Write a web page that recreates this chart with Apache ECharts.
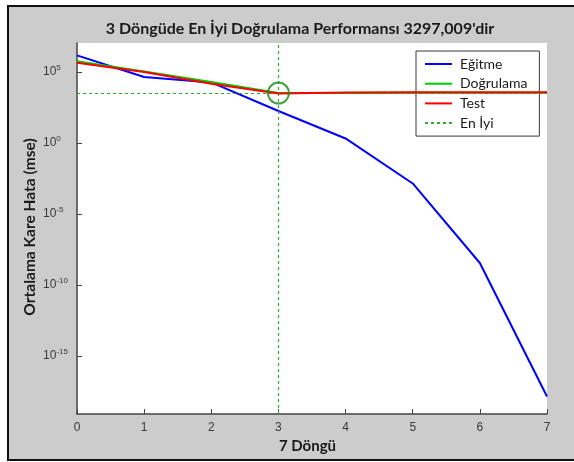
<!DOCTYPE html>
<html>
<head>
<meta charset="utf-8">
<script src="https://cdn.jsdelivr.net/npm/echarts@6/dist/echarts.min.js"></script>
<style>
  html, body { margin: 0; padding: 0; background: #ffffff; }
  #chart { width: 574px; height: 462px; }
</style>
</head>
<body>
<div id="chart"></div>
<script>
// Training record: mean squared error per epoch
const epochs = [0, 1, 2, 3, 4, 5, 6, 7];
const trainMse = [1.5e6, 4.5e4, 1.86e4, 182, 2.1, 1.41e-3, 3.5e-9, 1.35e-18];
const validationMse = [5.9e5, 1.12e5, 2.0e4, 3297.009, 3390, 3470, 3510, 3550];
const testMse = [4.6e5, 1.0e5, 1.5e4, 3090, 3630, 3720, 3760, 3800];
const bestEpoch = 3;
const bestValue = 3297.009;
const yTickExponents = [-15, -10, -5, 0, 5];
const xTicks = [0, 1, 2, 3, 4, 5, 6, 7];

const seriesNames = ['Eğitme', 'Doğrulama', 'Test', 'En İyi'];
const titleText = "3 Döngüde En İyi Doğrulama Performansı 3297,009'dir";

// the vertical axis is plotted in decades (log10 of the error)
const toPoints = (vals) => epochs.map((e, i) => [e, Math.log10(vals[i])]);
const bestLog = Math.log10(bestValue);

const chart = echarts.init(document.getElementById('chart'), null, { renderer: 'canvas' });

const labelFont = '"Liberation Sans", Arial, sans-serif';
const textFont = 'Lato, "Open Sans", sans-serif';
const bestColor = '#33a633';

chart.setOption({
  animation: false,
  graphic: [
    {
      type: 'rect', z: -10,
      shape: { x: 8, y: 6, width: 572, height: 454 },
      style: { fill: '#cccccc', stroke: '#111111', lineWidth: 2 }
    },
    {
      type: 'text', z: 10, x: 300, y: 28.5,
      style: { text: titleText, font: 'bold 16px ' + textFont, fill: '#1a1a1a',
               textAlign: 'center', textVerticalAlign: 'middle' }
    },
    {
      type: 'text', z: 10, x: 307.5, y: 446,
      style: { text: '7 Döngü', font: 'bold 15px ' + textFont, fill: '#1a1a1a',
               textAlign: 'center', textVerticalAlign: 'middle' }
    },
    {
      type: 'text', z: 10, x: 30, y: 227, rotation: Math.PI / 2,
      style: { text: 'Ortalama Kare Hata (mse)', font: 'bold 15.5px ' + textFont, fill: '#1a1a1a',
               textAlign: 'center', textVerticalAlign: 'middle' }
    }
  ],
  grid: {
    left: 77, right: 27, top: 43, bottom: 48,
    show: true, backgroundColor: '#ffffff', borderWidth: 0
  },
  legend: {
    orient: 'vertical',
    left: 416, top: 51,
    data: [
      { name: seriesNames[0] },
      { name: seriesNames[1] },
      { name: seriesNames[2] },
      { name: seriesNames[3], lineStyle: { width: 2, type: [3, 3], color: bestColor } }
    ],
    itemWidth: 27, itemHeight: 14, itemGap: 5.7,
    itemStyle: { opacity: 0 },
    padding: [6, 12, 6, 8],
    backgroundColor: '#ffffff',
    borderColor: '#3a3a3a', borderWidth: 1, borderRadius: 0,
    textStyle: { fontFamily: textFont, fontSize: 14, color: '#1a1a1a', padding: [0, 0, 0, 3] }
  },
  xAxis: {
    type: 'value', min: 0, max: 7, interval: 1,
    axisLine: { show: true, onZero: false, lineStyle: { color: '#444444', width: 1.5 } },
    axisTick: { show: true, inside: true, length: 5, lineStyle: { color: '#444444' } },
    axisLabel: { margin: 8, fontFamily: labelFont, fontSize: 12, color: '#3a3a3a',
                 formatter: (v) => xTicks.includes(v) ? String(v) : '' },
    splitLine: { show: false }
  },
  yAxis: {
    type: 'value', min: -19.1, max: 7.05,
    axisLine: { show: true, onZero: false, lineStyle: { color: '#444444', width: 1.5 } },
    axisTick: { show: true, inside: true, length: 5, customValues: yTickExponents,
                lineStyle: { color: '#444444' } },
    axisLabel: {
      customValues: yTickExponents,
      align: 'left', margin: 34,
      formatter: (v) => '{b|10}{s|' + v + '}',
      rich: {
        b: { fontFamily: labelFont, fontSize: 12, color: '#3a3a3a' },
        s: { fontFamily: labelFont, fontSize: 8, color: '#3a3a3a', padding: [0, 0, 9, 0] }
      }
    },
    splitLine: { show: false }
  },
  series: [
    {
      name: 'En İyi', type: 'line', data: [], z: 1,
      symbol: 'none',
      itemStyle: { color: bestColor },
      lineStyle: { color: bestColor, width: 1, type: [3, 3] },
      markLine: {
        silent: true, symbol: 'none', label: { show: false },
        lineStyle: { color: bestColor, width: 1.2, type: [3, 3] },
        data: [{ xAxis: bestEpoch }, { yAxis: bestLog }]
      }
    },
    {
      name: 'Eğitme', type: 'line', data: toPoints(trainMse), z: 3,
      showSymbol: false, symbol: 'none',
      itemStyle: { color: '#0000ff' },
      lineStyle: { color: '#0000ff', width: 2 }
    },
    {
      name: 'Doğrulama', type: 'line', data: toPoints(validationMse), z: 4,
      showSymbol: false, symbol: 'none',
      itemStyle: { color: '#00cc00' },
      lineStyle: { color: '#00cc00', width: 2 }
    },
    {
      name: 'Test', type: 'line', data: toPoints(testMse), z: 5,
      showSymbol: false, symbol: 'none',
      itemStyle: { color: '#ff0000' },
      lineStyle: { color: '#ff0000', width: 2 }
    },
    {
      // ring marking the best validation epoch
      type: 'scatter', z: 6, silent: true,
      data: [[bestEpoch, bestLog]],
      symbol: 'circle', symbolSize: 21,
      itemStyle: { color: 'rgba(0,0,0,0)', borderColor: '#138a13', borderWidth: 2 }
    }
  ]
});
</script>
</body>
</html>
